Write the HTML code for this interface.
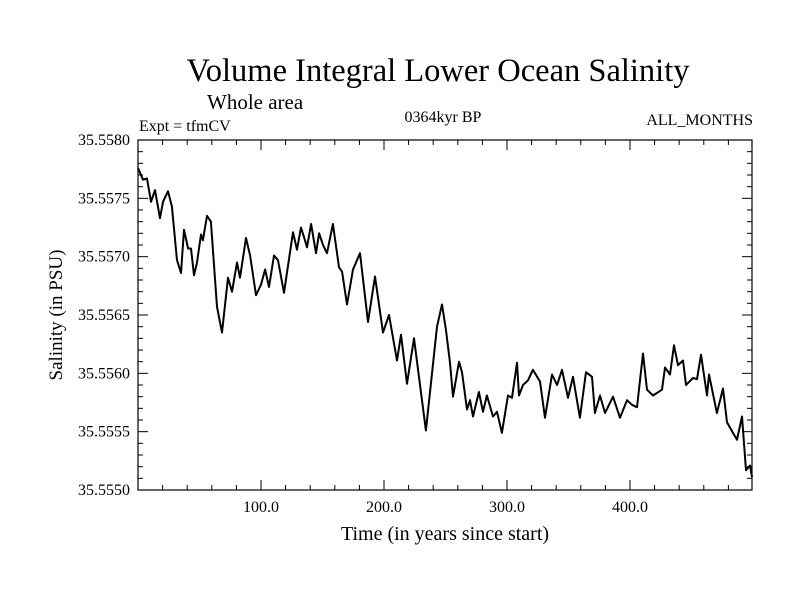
<!DOCTYPE html>
<html><head><meta charset="utf-8"><style>
body{margin:0;background:#fff}
svg text{font-family:"Liberation Serif",serif;fill:#000}
</style></head><body>
<svg id="chart" width="800" height="600" viewBox="0 0 800 600">
<rect width="800" height="600" fill="#fff"/>
<text x="438" y="81" font-size="32.5" text-anchor="middle">Volume Integral Lower Ocean Salinity</text>
<text x="207" y="109" font-size="21">Whole area</text>
<text x="139" y="131" font-size="16">Expt = tfmCV</text>
<text x="443" y="122" font-size="16" text-anchor="middle">0364kyr BP</text>
<text x="753" y="125" font-size="16" text-anchor="end">ALL_MONTHS</text>
<text transform="translate(62,315) rotate(-90)" font-size="19" text-anchor="middle">Salinity (in PSU)</text>
<text x="445" y="540" font-size="20" text-anchor="middle">Time (in years since start)</text>
<g id="axes"></g>
<path id="series" fill="none" stroke="#000" stroke-width="2" stroke-linejoin="round"/>
<rect x="138" y="140" width="614" height="350" fill="none" stroke="#000" stroke-width="1.2"/>
</svg>
<script>
const years=[0,4.1,7.3,10.6,13.8,17.9,20.3,24.4,27.6,31.7,35.0,37.4,40.7,43.1,45.5,48.0,51.2,52.8,56.1,59.3,64.2,68.3,73.2,76.4,80.5,82.9,87.8,91.1,95.9,100.0,103.3,106.5,110.6,113.8,118.7,126.0,129.3,132.5,135.8,137.4,140.7,144.7,147.2,150.4,153.7,158.5,163.4,165.9,169.9,174.8,180.5,187.0,192.7,199.2,204.1,210.6,213.8,218.7,224.4,234.1,243.1,247.2,250.4,253.7,256.1,261.0,263.4,267.5,269.9,272.4,277.2,280.5,283.7,288.6,291.9,295.9,300.8,304.1,308.1,309.8,313.0,317.1,321.1,326.8,330.9,336.6,340.7,344.7,349.6,353.7,359.3,364.2,369.1,371.5,375.6,379.7,386.2,391.9,397.6,401.6,405.7,410.6,413.8,418.7,426.0,428.5,432.5,435.8,439.0,443.1,445.5,451.2,454.5,457.7,462.6,464.2,470.7,475.6,478.9,483.7,487.0,491.1,494.3,497.6,499.2];
const salinity=[35.55776,35.55766,35.55767,35.55747,35.55757,35.55733,35.55747,35.55756,35.55743,35.55697,35.55686,35.55723,35.55707,35.55707,35.55684,35.55695,35.55719,35.55714,35.55735,35.55730,35.55657,35.55635,35.55682,35.55670,35.55695,35.55682,35.55716,35.55701,35.55667,35.55676,35.55689,35.55674,35.55701,35.55697,35.55669,35.55721,35.55706,35.55725,35.55714,35.55708,35.55728,35.55703,35.55720,35.55710,35.55703,35.55728,35.55691,35.55687,35.55659,35.55689,35.55703,35.55644,35.55683,35.55635,35.55650,35.55611,35.55633,35.55591,35.55630,35.55551,35.55640,35.55659,35.55637,35.55609,35.55580,35.55610,35.55601,35.55569,35.55577,35.55563,35.55584,35.55567,35.55581,35.55563,35.55567,35.55549,35.55581,35.55579,35.55609,35.55581,35.55590,35.55594,35.55603,35.55593,35.55562,35.55599,35.55590,35.55603,35.55579,35.55597,35.55562,35.55601,35.55597,35.55566,35.55581,35.55566,35.55580,35.55562,35.55577,35.55573,35.55571,35.55617,35.55586,35.55581,35.55586,35.55605,35.55599,35.55624,35.55607,35.55611,35.55590,35.55596,35.55595,35.55616,35.55581,35.55599,35.55566,35.55587,35.55558,35.55549,35.55543,35.55563,35.55517,35.55521,35.55511];
const xTicks=[100,200,300,400];
const xTickLabels=["100.0","200.0","300.0","400.0"];
const yTicks=[35.555,35.5555,35.556,35.5565,35.557,35.5575,35.558];
const yTickLabels=["35.5550","35.5555","35.5560","35.5565","35.5570","35.5575","35.5580"];
const X0=138,X1=752,Y0=490,Y1=140,XMIN=0,XMAX=499.2,YMIN=35.555,YMAX=35.558;
const sx=v=>X0+(v-XMIN)/(XMAX-XMIN)*(X1-X0);
const sy=v=>Y0-(v-YMIN)/(YMAX-YMIN)*(Y0-Y1);
const NS="http://www.w3.org/2000/svg";
const g=document.getElementById('axes');
function mk(t,a){const e=document.createElementNS(NS,t);for(const k in a)e.setAttribute(k,a[k]);g.appendChild(e);return e;}
for(let v=20;v<XMAX;v+=20){const major=v%100===0;const L=major?10:5;const x=sx(v);
 const a=mk('line',{x1:x,x2:x,y1:Y0,y2:Y0-L,stroke:'#000'});
 
 
 const b=mk('line',{x1:x,x2:x,y1:Y1,y2:Y1+L,stroke:'#000'});
 
 }
xTicks.forEach((v,i)=>{const t=mk('text',{x:sx(v),y:Y0+22,'font-size':16,'text-anchor':'middle'});t.textContent=xTickLabels[i];
 
 });
for(let k=1;k<30;k++){const v=YMIN+k*0.0001;const major=k%5===0;const L=major?10:5;const y=sy(v);
 const a=mk('line',{x1:X0,x2:X0+L,y1:y,y2:y,stroke:'#000'});
 
 
 const b=mk('line',{x1:X1,x2:X1-L,y1:y,y2:y,stroke:'#000'});
 
 }
yTicks.forEach((v,i)=>{const t=mk('text',{x:X0-8,y:sy(v)+5,'font-size':16,'text-anchor':'end'});t.textContent=yTickLabels[i];
 
 });
document.getElementById('series').setAttribute('d',years.map((v,i)=>(i?'L':'M')+sx(v).toFixed(1)+','+sy(salinity[i]).toFixed(1)).join(''));
</script>
</body></html>
